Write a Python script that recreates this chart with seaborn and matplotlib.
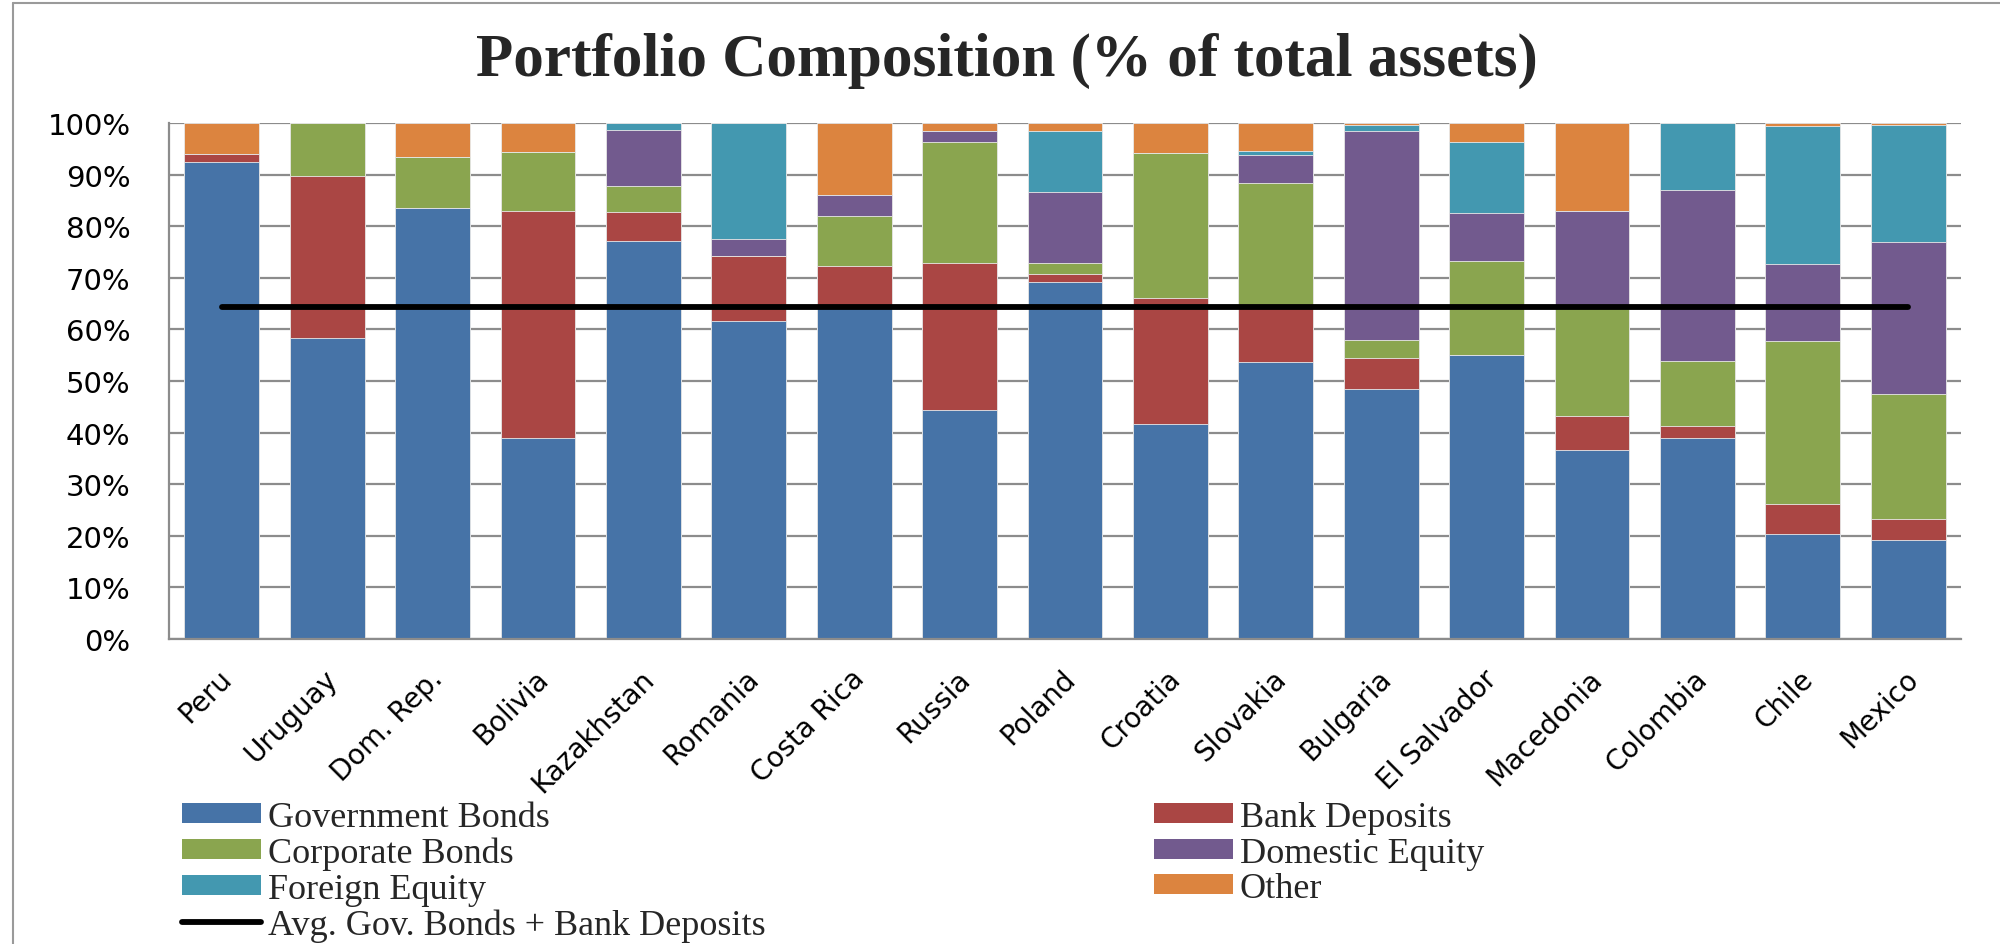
import numpy as np
import pandas as pd
import matplotlib
matplotlib.use("Agg")
import matplotlib.pyplot as plt
import matplotlib.transforms as mtransforms
from matplotlib.lines import Line2D
from matplotlib.patches import Patch
from matplotlib.ticker import FixedLocator
import seaborn as sns

# ---------------- data (% of total assets) ----------------
countries = ["Peru", "Uruguay", "Dom. Rep.", "Bolivia", "Kazakhstan", "Romania",
             "Costa Rica", "Russia", "Poland", "Croatia", "Slovakia", "Bulgaria",
             "El Salvador", "Macedonia", "Colombia", "Chile", "Mexico"]
gov_bonds   = [92.4, 58.3, 83.6, 38.9, 77.2, 61.6, 64.2, 44.3, 69.1, 41.6, 53.6, 48.4, 55.1, 36.7, 38.9, 20.3, 19.1]
bank_dep    = [1.5, 31.4, 0.0, 44.1, 5.5, 12.6, 8.1, 28.5, 1.7, 24.5, 10.9, 6.0, 0.0, 6.5, 2.4, 5.9, 4.2]
corp_bonds  = [0.0, 10.3, 9.9, 11.3, 5.0, 0.0, 9.7, 23.6, 2.1, 28.1, 23.9, 3.6, 18.1, 21.2, 12.6, 31.6, 24.2]
dom_equity  = [0.0, 0.0, 0.0, 0.0, 11.0, 3.4, 4.1, 2.0, 13.7, 0.0, 5.4, 40.4, 9.4, 18.6, 33.2, 14.9, 29.4]
for_equity  = [0.0, 0.0, 0.0, 0.0, 1.3, 22.4, 0.0, 0.0, 11.8, 0.0, 0.7, 1.25, 13.7, 0.0, 12.9, 26.7, 22.7]
other       = [6.1, 0.0, 6.5, 5.7, 0.0, 0.0, 13.9, 1.6, 1.6, 5.8, 5.5, 0.35, 3.7, 17.0, 0.0, 0.6, 0.4]
avg_gov_bank = 64.4   # average of Gov. Bonds + Bank Deposits

series_names = ["Government Bonds", "Bank Deposits", "Corporate Bonds",
                "Domestic Equity", "Foreign Equity", "Other"]
series_vals = [gov_bonds, bank_dep, corp_bonds, dom_equity, for_equity, other]
series_colors = ["#4673A7", "#AA4644", "#8AA54F", "#725A8E", "#4398B0", "#DC843F"]
line_label = "Avg. Gov. Bonds + Bank Deposits"
title = "Portfolio Composition (% of total assets)"
yticks = [0, 10, 20, 30, 40, 50, 60, 70, 80, 90, 100]

# ---------------- figure ----------------
sns.set_style("white")
plt.rcParams["font.family"] = ["DejaVu Sans"]

W, H = 2000, 945
fig = plt.figure(figsize=(W / 100, H / 100), dpi=100)
ax = fig.add_axes([169 / W, 1 - 640 / H, (1961 - 169) / W, (640 - 124) / H])

cum = np.zeros(len(countries))
cums = []
for vals in series_vals:
    cum = cum + np.array(vals)
    cums.append(cum.copy())

# draw stacked bars as overlapping cumulative bars (top layer first)
for name, c, color in reversed(list(zip(series_names, cums, series_colors))):
    sns.barplot(x=countries, y=c, order=countries, color=color, saturation=1,
                width=0.71, errorbar=None, ax=ax, edgecolor="#e9e9e9",
                linewidth=0.6, zorder=2)

# average line
sns.lineplot(x=countries, y=[avg_gov_bank] * len(countries), color="black",
             lw=4.2, ax=ax, zorder=4, solid_capstyle="round", sort=False)

# ---------------- axes styling ----------------
grey = "#8c8c8c"
ax.set_xlim(-0.5, len(countries) - 0.5)
ax.set_ylim(0, 100)
ax.set_yticks(yticks)
ax.set_yticklabels([f"{t}%" for t in yticks])
ax.yaxis.grid(True, color=grey, lw=1.6, zorder=0)
ax.xaxis.grid(False)
ax.set_axisbelow(True)
for s in ["top", "right"]:
    ax.spines[s].set_visible(False)
for s in ["left", "bottom"]:
    ax.spines[s].set_color(grey)
    ax.spines[s].set_linewidth(1.6)
ax.set_xlabel("")
ax.set_ylabel("")

ax.tick_params(axis="y", which="major", direction="out", length=8.6, width=1.6,
               color=grey, pad=19, labelsize=21, labelcolor="black")
ax.set_xticks(range(len(countries)))
ax.set_xticklabels(countries)
ax.xaxis.set_minor_locator(FixedLocator(np.arange(len(countries) + 1) - 0.5))
ax.tick_params(axis="x", which="minor", direction="out", length=6.5, width=1.6,
               color=grey)
ax.tick_params(axis="x", which="major", length=0, pad=25, labelsize=20,
               labelcolor="black")
offset = mtransforms.ScaledTranslation(6 / 100, 0, fig.dpi_scale_trans)
for lab in ax.get_xticklabels():
    lab.set_rotation(45)
    lab.set_ha("right")
    lab.set_va("center")
    lab.set_rotation_mode("anchor")
    lab.set_transform(lab.get_transform() + offset)

# ---------------- title ----------------
fig.text(1007 / W, 1 - 76 / H, title, ha="center", va="baseline",
         fontsize=44, fontweight="bold", family=["Liberation Serif", "DejaVu Serif"])

# ---------------- legends ----------------
patches = {n: Patch(facecolor=c, edgecolor="none", label=n)
           for n, c in zip(series_names, series_colors)}
line_handle = Line2D([], [], color="black", lw=4.2, solid_capstyle="round",
                     label=line_label)
leg_kw = dict(frameon=False, loc="upper left", borderpad=0, borderaxespad=0,
              handlelength=2.19, handleheight=0.47, handletextpad=0.19,
              labelspacing=0.07,
              prop={"family": ["Liberation Serif", "DejaVu Serif"], "size": 26})
col1 = [patches["Government Bonds"], patches["Corporate Bonds"],
        patches["Foreign Equity"], line_handle]
col2 = [patches["Bank Deposits"], patches["Domestic Equity"], patches["Other"]]
leg1 = fig.legend(handles=col1, bbox_to_anchor=(182 / W, 1 - 802 / H), **leg_kw)
leg2 = fig.legend(handles=col2, bbox_to_anchor=(1154 / W, 1 - 802 / H), **leg_kw)

# ---------------- outer chart frame ----------------
fig.add_artist(Line2D([13 / W, 1.0], [1 - 4 / H, 1 - 4 / H], transform=fig.transFigure,
                      color="#9a9a9a", lw=1.5))
fig.add_artist(Line2D([13 / W, 13 / W], [0.0, 1 - 4 / H], transform=fig.transFigure,
                      color="#9a9a9a", lw=1.5))

fig.savefig("out.png", dpi=100)
